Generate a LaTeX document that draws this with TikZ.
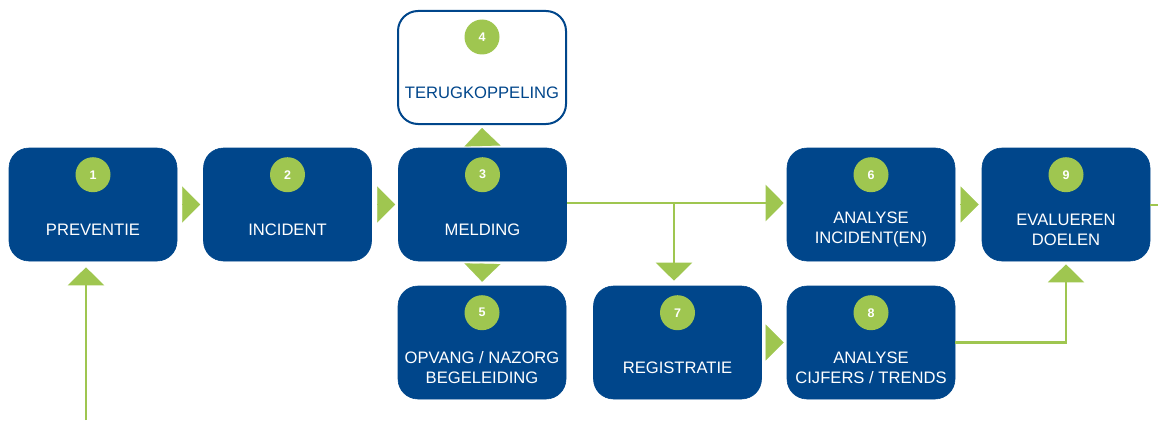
\documentclass[tikz,border=0pt]{standalone}
\usepackage{fontspec}
\setmainfont{Liberation Sans}
\usetikzlibrary{arrows.meta}
\definecolor{navy}{HTML}{00468B}
\definecolor{leaf}{HTML}{9FC650}
\begin{document}
\begin{tikzpicture}[x=1pt,y=-1pt,
  stagebox/.style={rounded corners=20pt, minimum width=168pt, minimum height=113pt,
    fill=navy, draw=navy, line width=0.6pt, inner sep=0pt},
  openbox/.style={stagebox, fill=white, draw=navy, line width=2pt},
  badge/.style={circle, fill=leaf, minimum size=35pt, inner sep=0pt,
    text=white, font=\fontsize{12.5}{14}\selectfont\bfseries},
  caption/.style={text=white, align=center, inner sep=0pt,
    font=\fontsize{16.6}{20}\selectfont},
  conn/.style={draw=leaf, line width=2.5pt,
    -{Triangle[length=18pt, width=36pt]}},
  gap/.style={conn, line width=0.1pt},
  feed/.style={draw=leaf, line width=2.5pt}
]
\useasboundingbox (0,0) rectangle (1158,420);

% stages
\node[stagebox] (b1) at (93,204.5) {};
\node[stagebox] (b2) at (287.5,204.5) {};
\node[stagebox] (b3) at (482.5,204.5) {};
\node[openbox]  (b4) at (482,67.5) {};
\node[stagebox] (b5) at (482,342.5) {};
\node[stagebox] (b6) at (871,204.5) {};
\node[stagebox] (b7) at (677.5,342.5) {};
\node[stagebox] (b8) at (871,342.5) {};
\node[stagebox] (b9) at (1066,204.5) {};

% numbered badges
\foreach \n in {1,...,9}
  \node[badge] (n\n) at ([yshift=-27pt]b\n.north) {\n};

% captions
\node[caption] (t1) at ([yshift=-25pt]b1.center) {PREVENTIE};
\node[caption] (t2) at ([yshift=-25pt]b2.center) {INCIDENT};
\node[caption] (t3) at ([yshift=-25pt]b3.center) {MELDING};
\node[caption, text=navy] (t4) at ([yshift=-25pt]b4.center) {TERUGKOPPELING};
\node[caption] (t5) at ([yshift=-25pt]b5.center) {OPVANG / NAZORG\\BEGELEIDING};
\node[caption] (t6) at ([yshift=-25pt]b6.center) {ANALYSE\\INCIDENT(EN)};
\node[caption] (t7) at ([yshift=-25pt]b7.center) {REGISTRATIE};
\node[caption] (t8) at ([yshift=-25pt]b8.center) {ANALYSE\\CIJFERS / TRENDS};
\node[caption] (t9) at ([yshift=-25pt]b9.center) {EVALUEREN\\DOELEN};

% short arrows between neighbouring stages
\draw[gap, shorten <=6pt, shorten >=3pt] (b1.east) -- (b2.west);
\draw[gap, shorten <=6pt, shorten >=3pt] (b2.east) -- (b3.west);
\draw[gap, shorten <=2pt, shorten >=3pt] (b3.north) -- (b4.south);
\draw[gap, shorten <=4pt, shorten >=4pt] (b3.south) -- (b5.north);
\draw[gap, shorten <=5pt, shorten >=3pt] (b6.east) -- (b9.west);
\draw[gap, shorten <=6pt, shorten >=3pt] (b7.east) -- (b8.west);

% reporting line with branch to registration
\coordinate (j) at (674,203);
\draw[conn, shorten >=3pt] (b3.east |- j) -- (b6.west |- j);
\draw[conn, shorten >=5pt] (j) -- (j |- b7.north);

% trends feed into evaluation
\draw[conn, shorten >=3pt] (b8.east) -| (b9.south);

% outgoing and incoming lines
\coordinate (out) at (1158,205);
\draw[feed] (b9.east |- out) -- (out);
\coordinate (in) at (86,420);
\draw[conn, shorten >=6pt] (in) -- (in |- b1.south);
\end{tikzpicture}
\end{document}
